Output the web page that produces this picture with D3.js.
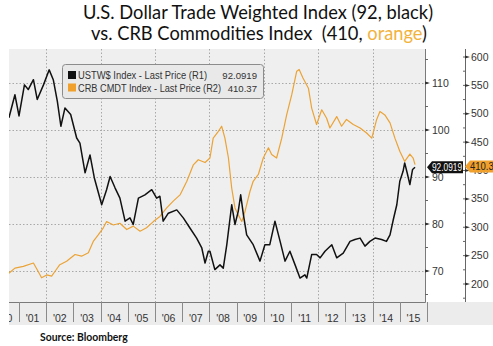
<!DOCTYPE html>
<html>
<head>
<meta charset="utf-8">
<script src="https://cdn.jsdelivr.net/npm/d3@7"></script>
<style>
  body { margin: 0; background: #fff; }
  svg { display: block; }
</style>
</head>
<body>
<svg id="chart" width="493" height="346"></svg>
<script>
const width = 493;
const height = 346;

// USTW$ index (black, right axis R1)
const usdYears = [2000.63, 2000.85, 2001.0, 2001.2, 2001.34, 2001.53, 2001.67, 2001.9, 2002.11, 2002.26,
  2002.41, 2002.54, 2002.69, 2002.9, 2003.12, 2003.24, 2003.43, 2003.61, 2003.77, 2004.04,
  2004.22, 2004.35, 2004.53, 2004.71, 2004.9, 2005.08, 2005.2, 2005.39, 2005.63, 2005.88,
  2006.06, 2006.18, 2006.3, 2006.49, 2006.8, 2007.04, 2007.29, 2007.53, 2007.72, 2007.84,
  2007.96, 2008.02, 2008.2, 2008.39, 2008.51, 2008.64, 2008.82, 2008.94, 2009.06, 2009.15,
  2009.25, 2009.37, 2009.61, 2009.86, 2010.04, 2010.22, 2010.41, 2010.6, 2010.78, 2010.96,
  2011.15, 2011.33, 2011.51, 2011.58, 2011.76, 2011.94, 2012.07, 2012.25, 2012.5, 2012.68,
  2012.92, 2013.17, 2013.35, 2013.54, 2013.72, 2013.9, 2014.09, 2014.33, 2014.51, 2014.64,
  2014.76, 2014.89, 2015.0, 2015.12, 2015.18, 2015.27, 2015.37, 2015.47, 2015.56];
const usdValues = [102.6, 107.5, 103.0, 109.6, 108.6, 110.7, 106.5, 109.6, 112.8, 110.7,
  106.1, 100.8, 104.7, 103.3, 98.3, 97.2, 90.9, 94.7, 89.8, 84.1,
  87.3, 90.1, 87.7, 85.5, 80.6, 81.3, 79.9, 85.5, 86.2, 87.3,
  85.5, 85.9, 80.6, 82.3, 83.0, 81.3, 79.1, 77.0, 74.9, 71.7,
  74.2, 74.2, 70.3, 71.3, 70.6, 75.6, 84.1, 79.9, 82.7, 86.2,
  82.0, 77.7, 75.6, 72.1, 75.6, 75.6, 80.6, 76.3, 72.1, 74.2,
  71.3, 68.5, 69.2, 68.5, 73.5, 73.5, 72.8, 74.2, 75.6, 72.8,
  73.8, 76.3, 76.7, 77.0, 75.3, 76.3, 77.0, 76.7, 76.3, 77.7,
  80.9, 84.1, 89.1, 91.2, 93.0, 90.9, 88.4, 91.6, 92.09];

// CRB CMDT index (orange, right axis R2)
const crbYears = [2000.63, 2000.85, 2001.16, 2001.53, 2001.67, 2001.83, 2002.02, 2002.2, 2002.32, 2002.5,
  2002.75, 2003.06, 2003.3, 2003.55, 2003.73, 2003.92, 2004.1, 2004.22, 2004.47, 2004.71,
  2004.96, 2005.2, 2005.45, 2005.69, 2005.94, 2006.18, 2006.43, 2006.67, 2006.92, 2007.17,
  2007.41, 2007.59, 2007.84, 2008.02, 2008.14, 2008.33, 2008.45, 2008.57, 2008.7, 2008.82,
  2008.94, 2009.06, 2009.19, 2009.31, 2009.49, 2009.61, 2009.8, 2009.98, 2010.17, 2010.29,
  2010.47, 2010.66, 2010.84, 2011.03, 2011.21, 2011.3, 2011.44, 2011.64, 2011.76, 2011.94,
  2012.13, 2012.31, 2012.43, 2012.68, 2012.86, 2013.04, 2013.29, 2013.54, 2013.78, 2013.97,
  2014.15, 2014.27, 2014.45, 2014.64, 2014.82, 2015.0, 2015.18, 2015.37, 2015.49, 2015.56];
const crbValues = [219, 228, 231, 237, 225, 211, 216, 214, 222, 234,
  240, 252, 249, 255, 275, 287, 299, 310, 304, 307,
  296, 302, 293, 299, 310, 319, 334, 346, 357, 381,
  410, 419, 414, 422, 457, 469, 478, 457, 422, 369,
  334, 322, 310, 328, 363, 381, 393, 422, 440, 428,
  422, 457, 498, 534, 575, 578, 563, 545, 510, 481,
  507, 492, 475, 495, 478, 490, 481, 475, 466, 457,
  490, 504, 498, 484, 457, 434, 416, 429, 422, 410.37];

const yearTicks = d3.range(2001, 2017);
const yearLabels = d3.range(2000, 2016).map(y => "'" + String(y).slice(2));
const r1Ticks = [70, 80, 90, 100, 110];
const r2Ticks = [200, 250, 300, 350, 400, 450, 500, 550, 600];

const usdLast = 92.0919;
const crbLast = 410.37;

const plot = { left: 9, right: 425, top: 49, bottom: 302 };

const x = d3.scaleLinear().domain([2000, 2016]).range([-8.2, 427]);
const y1 = d3.scaleLinear().domain([70, 110]).range([271, 83]);
const y2 = d3.scaleLinear().domain([200, 600]).range([284, 57]);

const svg = d3.select("#chart")
  .attr("viewBox", [0, 0, width, height])
  .style("font-family", "'Liberation Sans', Arial, sans-serif");

// title
const title = svg.append("g")
  .attr("font-family", "Lato, 'Open Sans', sans-serif")
  .attr("font-size", 18.3)
  .attr("fill", "#111")
  .attr("text-anchor", "middle");
title.append("text").attr("x", 258).attr("y", 19)
  .text("U.S. Dollar Trade Weighted Index (92, black)");
const t2 = title.append("text").attr("x", 259).attr("y", 40).attr("xml:space", "preserve");
t2.append("tspan").text("vs. CRB Commodities Index  (410, ");
t2.append("tspan").attr("fill", "#f2b33d").text("orange");
t2.append("tspan").text(")");

// x axis band
svg.append("rect")
  .attr("x", plot.left).attr("y", plot.bottom)
  .attr("width", width - plot.left).attr("height", 23)
  .attr("fill", "#ececec");

// plot background
svg.append("rect")
  .attr("x", plot.left).attr("y", plot.top)
  .attr("width", plot.right - plot.left).attr("height", plot.bottom - plot.top)
  .attr("fill", "#efefef");

svg.append("clipPath").attr("id", "clip")
  .append("rect")
  .attr("x", plot.left).attr("y", plot.top)
  .attr("width", plot.right - plot.left).attr("height", plot.bottom - plot.top);

svg.append("clipPath").attr("id", "clipx")
  .append("rect")
  .attr("x", plot.left).attr("y", plot.bottom)
  .attr("width", width - plot.left).attr("height", 30);

// grid
const grid = svg.append("g")
  .attr("stroke", "#a8a8a8")
  .attr("stroke-width", 1)
  .attr("stroke-dasharray", "1.5,2");
grid.selectAll("line.v")
  .data(yearTicks.filter(d => d % 2 === 0 && d < 2016))
  .join("line")
    .attr("class", "v")
    .attr("x1", d => Math.round(x(d)) + 0.5)
    .attr("x2", d => Math.round(x(d)) + 0.5)
    .attr("y1", plot.top).attr("y2", plot.bottom);
grid.selectAll("line.h")
  .data(r1Ticks)
  .join("line")
    .attr("class", "h")
    .attr("x1", plot.left).attr("x2", plot.right)
    .attr("y1", d => Math.round(y1(d)) + 0.5)
    .attr("y2", d => Math.round(y1(d)) + 0.5);

// lines
const lines = svg.append("g").attr("clip-path", "url(#clip)");
const crbData = crbYears.map((t, i) => [t, crbValues[i]]);
const usdData = usdYears.map((t, i) => [t, usdValues[i]]);

lines.append("path")
  .datum(crbData)
  .attr("fill", "none")
  .attr("stroke", "#eba336")
  .attr("stroke-width", 1.2)
  .attr("stroke-linejoin", "round")
  .attr("d", d3.line().x(d => x(d[0])).y(d => y2(d[1])));

lines.append("path")
  .datum(usdData)
  .attr("fill", "none")
  .attr("stroke", "#111")
  .attr("stroke-width", 1.5)
  .attr("stroke-linejoin", "round")
  .attr("d", d3.line().x(d => x(d[0])).y(d => y1(d[1])));

// plot border (right and bottom)
svg.append("path")
  .attr("d", `M${plot.right + 0.5},${plot.top}V${plot.bottom + 0.5}H${plot.left}`)
  .attr("fill", "none")
  .attr("stroke", "#7a7a7a");

// x axis separators and labels
const xg = svg.append("g").attr("clip-path", "url(#clipx)");
xg.selectAll("line")
  .data(yearTicks)
  .join("line")
    .attr("x1", d => Math.round(x(d)) + 0.5)
    .attr("x2", d => Math.round(x(d)) + 0.5)
    .attr("y1", plot.bottom).attr("y2", plot.bottom + 20)
    .attr("stroke", "#8a8a8a");
xg.selectAll("text")
  .data(yearLabels)
  .join("text")
    .attr("x", (d, i) => x(2000 + i + 0.5))
    .attr("y", plot.bottom + 20)
    .attr("text-anchor", "middle")
    .attr("font-size", 10.5)
    .attr("fill", "#333")
    .text(d => d);

// R1 axis
const r1 = svg.append("g");
r1.selectAll("line.minor")
  .data(d3.range(65, 116, 5))
  .join("line")
    .attr("class", "minor")
    .attr("x1", plot.right).attr("x2", plot.right + 3)
    .attr("y1", d => y1(d)).attr("y2", d => y1(d))
    .attr("stroke", "#666");
r1.selectAll("path")
  .data(r1Ticks)
  .join("path")
    .attr("d", d => `M${plot.right},${y1(d) - 1.5}L${plot.right + 5},${y1(d)}L${plot.right},${y1(d) + 1.5}Z`)
    .attr("fill", "#333");
r1.selectAll("text")
  .data(r1Ticks)
  .join("text")
    .attr("x", plot.right + 7)
    .attr("y", d => y1(d) + 3.5)
    .attr("font-size", 10.5)
    .attr("fill", "#333")
    .text(d => d);

// R2 axis
const r2x = 465;
const r2 = svg.append("g");
r2.append("line")
  .attr("x1", r2x + 0.5).attr("x2", r2x + 0.5)
  .attr("y1", plot.top).attr("y2", plot.bottom)
  .attr("stroke", "#666");
r2.selectAll("line.minor")
  .data(d3.range(175, 601, 25))
  .join("line")
    .attr("class", "minor")
    .attr("x1", r2x - 2).attr("x2", r2x + 1)
    .attr("y1", d => y2(d)).attr("y2", d => y2(d))
    .attr("stroke", "#666");
r2.selectAll("path")
  .data(r2Ticks)
  .join("path")
    .attr("d", d => `M${r2x},${y2(d) - 1.5}L${r2x + 5},${y2(d)}L${r2x},${y2(d) + 1.5}Z`)
    .attr("fill", "#333");
r2.selectAll("text")
  .data(r2Ticks)
  .join("text")
    .attr("x", r2x + 6)
    .attr("y", d => y2(d) + 3.5)
    .attr("font-size", 10.5)
    .attr("fill", "#333")
    .text(d => d);

// last price tags
function tag(xp, yc, w, fill, textFill, label, textW) {
  const g = svg.append("g");
  g.append("path")
    .attr("d", `M${xp},${yc}L${xp + 5},${yc - 6}H${xp + w}V${yc + 6}H${xp + 5}Z`)
    .attr("fill", fill);
  const t = g.append("text")
    .attr("x", xp + 5).attr("y", yc + 3.5)
    .attr("font-size", 10)
    .attr("fill", textFill)
    .text(label);
  if (textW) t.attr("textLength", textW).attr("lengthAdjust", "spacingAndGlyphs");
}
tag(plot.right + 2, y1(usdLast), 36, "#111", "#fff", usdLast.toFixed(4), 30);
tag(r2x, y2(crbLast) + 2, 36, "#f0a02c", "#222", crbLast.toFixed(2), 29);

// legend
const legend = svg.append("g").attr("transform", "translate(62,64)");
legend.append("rect")
  .attr("x", 0.5).attr("y", 0.5)
  .attr("width", 201).attr("height", 34)
  .attr("rx", 3)
  .attr("fill", "#e9e9e9")
  .attr("stroke", "#8c8c8c");
const items = [
  { color: "#111", name: "USTW$ Index - Last Price (R1)", value: usdLast.toFixed(4), w: 129 },
  { color: "#f0a02c", name: "CRB CMDT Index - Last Price (R2)", value: crbLast.toFixed(2), w: 143 }
];
const rows = legend.selectAll("g.row")
  .data(items)
  .join("g")
    .attr("class", "row")
    .attr("transform", (d, i) => `translate(0,${7 + i * 12.5})`);
rows.append("rect")
  .attr("x", 6).attr("y", 0)
  .attr("width", 8).attr("height", 8)
  .attr("fill", d => d.color);
rows.append("text")
  .attr("x", 16).attr("y", 8)
  .attr("font-size", 10)
  .attr("textLength", d => d.w)
  .attr("lengthAdjust", "spacingAndGlyphs")
  .attr("fill", "#333")
  .text(d => d.name);
rows.append("text")
  .attr("x", 195).attr("y", 8)
  .attr("text-anchor", "end")
  .attr("font-size", 9.6)
  .attr("fill", "#333")
  .text(d => d.value);

// source
svg.append("text")
  .attr("x", 40).attr("y", 341)
  .attr("font-family", "Lato, 'Open Sans', sans-serif")
  .attr("font-weight", "bold")
  .attr("font-size", 10.4)
  .attr("fill", "#111")
  .text("Source: Bloomberg");
</script>
</body>
</html>
